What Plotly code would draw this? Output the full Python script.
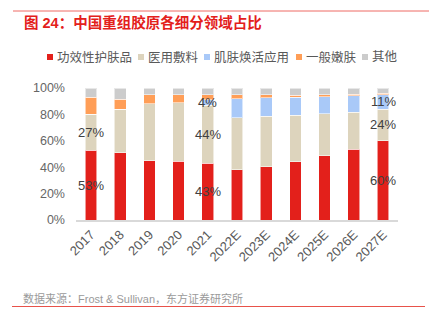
import plotly.graph_objects as go

# Shares of recombinant collagen by application segment (%)
years = ["2017", "2018", "2019", "2020", "2021", "2022E", "2023E",
         "2024E", "2025E", "2026E", "2027E"]
skincare = [53, 51, 45, 44.5, 43, 38, 40.5, 44, 48.5, 53.5, 60]
dressing = [27, 33, 43, 44.5, 44, 39.5, 38, 35.5, 32, 28, 24]
rejuvenation = [0, 0, 0, 0, 4, 14.5, 14, 13.5, 13, 12.5, 11]
tender_skin = [13, 7.5, 7, 6, 4, 3, 2.5, 1.5, 1.5, 1.2, 1]
others = [7, 8.5, 5, 5, 5, 5, 5, 5.5, 5, 4.8, 4]

series_names = ["功效性护肤品", "医用敷料", "肌肤焕活应用", "一般嫩肤", "其他"]
series_values = [skincare, dressing, rejuvenation, tender_skin, others]
series_colors = ["#E3201B", "#DDD4BD", "#A9C9F8", "#FF9E57", "#CCCCCC"]

y_ticks = [0, 20, 40, 60, 80, 100]
y_tick_text = ["0%", "20%", "40%", "60%", "80%", "100%"]

# Segments that carry a value label: (series index, year)
labelled = [(0, "2017"), (1, "2017"), (0, "2021"), (1, "2021"), (2, "2021"),
            (0, "2027E"), (1, "2027E"), (2, "2027E")]

FONT = "Liberation Sans, Noto Sans CJK SC, sans-serif"
W, H = 429, 324
L, R, T, B = 76, 31, 88, 104
PW, PH = W - L - R, H - T - B


def px(x):
    return (x - L) / PW


def py(y):
    return (H - B - y) / PH


fig = go.Figure()
for name, vals, col in zip(series_names, series_values, series_colors):
    fig.add_trace(go.Bar(
        x=years, y=vals, name=name, width=0.4,
        marker=dict(color=col, line=dict(color="rgba(255,255,255,0.55)", width=1)),
        showlegend=False, hoverinfo="skip",
    ))

annotations = []
for si, yr in labelled:
    i = years.index(yr)
    base = sum(series_values[k][i] for k in range(si))
    v = series_values[si][i]
    annotations.append(dict(
        x=i, y=base + v / 2, xref="x", yref="y", text=f"{v:.0f}%",
        showarrow=False, font=dict(family=FONT, size=13, color="#404040"),
    ))

# Title
annotations.append(dict(
    x=px(22), y=py(22), xref="paper", yref="paper", xanchor="left", yanchor="middle",
    text="<b>图 24：中国重组胶原各细分领域占比</b>", showarrow=False,
    font=dict(family=FONT, size=14.5, color="#E3201B"),
))
# Source note
annotations.append(dict(
    x=px(21), y=py(298), xref="paper", yref="paper", xanchor="left", yanchor="middle",
    text="数据来源：Frost & Sullivan，东方证券研究所", showarrow=False,
    font=dict(family=FONT, size=11, color="#9A9A9A"),
))

# Legend row
shapes = []
leg_x = [47, 138, 204, 296, 362]
for lx, name, col in zip(leg_x, series_names, series_colors):
    shapes.append(dict(type="rect", xref="paper", yref="paper",
                       x0=px(lx), x1=px(lx + 6), y0=py(60), y1=py(54),
                       fillcolor=col, line=dict(width=0)))
    annotations.append(dict(
        x=px(lx + 8), y=py(57), xref="paper", yref="paper", xanchor="left",
        yanchor="middle", text=name, showarrow=False,
        font=dict(family=FONT, size=12.5, color="#595959"),
    ))

# Rules above and below
shapes.append(dict(type="line", xref="paper", yref="paper",
                   x0=px(13), x1=px(429), y0=py(11), y1=py(11),
                   line=dict(color="#EE6A64", width=1)))
shapes.append(dict(type="line", xref="paper", yref="paper",
                   x0=px(12), x1=px(425), y0=py(306.5), y1=py(306.5),
                   line=dict(color="#E8524A", width=1)))

fig.update_layout(
    width=W, height=H, barmode="stack",
    margin=dict(l=L, r=R, t=T, b=B, autoexpand=False),
    paper_bgcolor="white", plot_bgcolor="white",
    font=dict(family=FONT, color="#595959"),
    annotations=annotations, shapes=shapes,
    xaxis=dict(type="category", tickangle=-45, showgrid=False, showline=True,
               linecolor="#D9D9D9", linewidth=2, ticks="",
               tickfont=dict(size=13, color="#595959"), fixedrange=True),
    yaxis=dict(range=[0, 100], tickvals=y_ticks, ticktext=y_tick_text,
               tickmode="array", showgrid=False, zeroline=False, showline=False,
               ticks="", tickfont=dict(size=12.5, color="#666666"),
               ticklabelstandoff=10, fixedrange=True),
)

fig.write_html("out.html", config={"displayModeBar": False})
